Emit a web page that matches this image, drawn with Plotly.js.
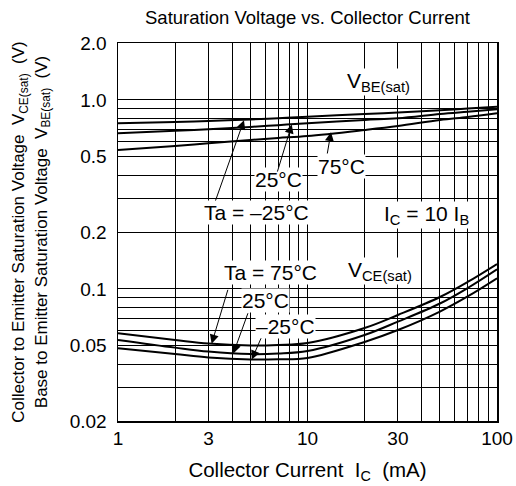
<!DOCTYPE html>
<html>
<head>
<meta charset="utf-8">
<script src="https://cdn.plot.ly/plotly-3.0.1.min.js"></script>
<style>html,body{margin:0;padding:0;background:#fff;}#chart{width:516px;height:486px;}</style>
</head>
<body>
<div id="chart"></div>
<script>
// Collector current (mA)
const currentMA = [1, 2, 3, 5, 7, 10, 20, 30, 50, 70, 100];
// V_BE(sat) (V)
const vbeM25 = [0.752, 0.764, 0.773, 0.788, 0.800, 0.815, 0.842, 0.858, 0.881, 0.900, 0.920];
const vbe25  = [0.666, 0.686, 0.699, 0.719, 0.735, 0.752, 0.783, 0.799, 0.842, 0.866, 0.892];
const vbe75  = [0.543, 0.570, 0.589, 0.614, 0.629, 0.644, 0.693, 0.727, 0.783, 0.812, 0.849];
// V_CE(sat) (V)
const vce75  = [0.0582, 0.0537, 0.0514, 0.0502, 0.0505, 0.0517, 0.0621, 0.0728, 0.0906, 0.1088, 0.1354];
const vce25  = [0.0537, 0.0489, 0.0466, 0.0452, 0.0455, 0.0469, 0.0570, 0.0671, 0.0837, 0.1011, 0.1270];
const vceM25 = [0.0485, 0.0452, 0.0434, 0.0423, 0.0424, 0.0431, 0.0524, 0.0606, 0.0759, 0.0912, 0.1138];

// Tick labels and grid positions
const xTickVals = [1, 3, 10, 30, 100];
const xTickText = ['1', '3', '10', '30', '100'];
const xGridVals = [2,3,4,5,6,7,8,9,10,20,30,40,50,60,70,80,90];
const yTickVals = [0.02, 0.05, 0.1, 0.2, 0.5, 1.0, 2.0];
const yTickText = ['0.02', '0.05', '0.1', '0.2', '0.5', '1.0', '2.0'];
const yGridVals = [0.03,0.04,0.05,0.06,0.07,0.08,0.09,0.1,0.2,0.3,0.4,0.5,0.6,0.7,0.8,0.9,1.0];

const FONT = 'Liberation Sans, Arial, Helvetica, sans-serif';

function tr(y, name) {
  return {x: currentMA, y: y, name: name, mode: 'lines', type: 'scatter',
          line: {color: '#000', width: 2, shape: 'spline', smoothing: 1}};
}
const data = [
  tr(vbeM25, 'VBE -25°C'), tr(vbe25, 'VBE 25°C'), tr(vbe75, 'VBE 75°C'),
  tr(vce75, 'VCE 75°C'), tr(vce25, 'VCE 25°C'), tr(vceM25, 'VCE -25°C')
];

const L = Math.log10;
function txt(text, x, y) {
  return {text: text, x: L(x), y: L(y), xref: 'x', yref: 'y', showarrow: false,
          xanchor: 'center', yanchor: 'middle', bgcolor: '#fff', borderpad: 0,
          font: {family: FONT, size: 21, color: '#000'}};
}
function arr(tipX, tipY, tailX, tailY) {
  return {text: '', x: L(tipX), y: L(tipY), ax: L(tailX), ay: L(tailY), xref: 'x', yref: 'y',
          axref: 'x', ayref: 'y', showarrow: true, arrowhead: 2, arrowsize: 1.8, arrowwidth: 1,
          arrowcolor: '#000', standoff: 0, startstandoff: 0};
}

const annotations = [
  txt('V<sub>BE(sat)</sub>', 23.6, 1.245),
  txt('V<sub>CE(sat)</sub>', 24.1, 0.1245),
  txt('I<sub>C</sub> = 10 I<sub>B</sub>', 42.4, 0.246),
  txt('Ta = –25°C', 5.35, 0.255),
  txt('25°C', 7.03, 0.377),
  txt('75°C', 15.1, 0.443),
  txt('Ta = 75°C', 6.34, 0.1214),
  txt('25°C', 5.97, 0.0873),
  txt('–25°C', 7.70, 0.0631),
  arr(4.62, 0.780, 3.25, 0.288),
  arr(8.26, 0.742, 6.90, 0.410),
  arr(13.3, 0.675, 12.68, 0.511),
  arr(3.12, 0.0513, 3.82, 0.1007),
  arr(4.06, 0.0455, 4.88, 0.0757),
  arr(5.08, 0.0423, 5.73, 0.0558)
];

const axisCommon = {
  type: 'log', tickmode: 'array', showgrid: true, gridcolor: '#000', gridwidth: 1, zeroline: false,
  showline: true, mirror: true, linecolor: '#000', linewidth: 1.5, ticks: '',
  tickfont: {family: FONT, size: 19, color: '#000'}
};

const layout = {
  width: 516, height: 486,
  margin: {l: 118, r: 19, t: 43, b: 65, pad: 0},
  paper_bgcolor: '#fff', plot_bgcolor: '#fff',
  showlegend: false,
  font: {family: FONT, color: '#000', size: 18},
  title: {text: 'Saturation Voltage vs. Collector Current', x: 0.5, xref: 'paper',
          y: 1 - 18 / 486, yref: 'container', xanchor: 'center', yanchor: 'middle',
          font: {family: FONT, size: 18.5, color: '#000'}},
  xaxis: Object.assign({}, axisCommon, {
    range: [0, 2], tickvals: xTickVals, ticktext: xTickText,
    minor: {tickmode: 'array', tickvals: xGridVals, showgrid: true, gridcolor: '#000', gridwidth: 1, ticks: ''},
    title: {text: 'Collector Current&nbsp; I<sub>C</sub>&nbsp; (mA)', standoff: 14,
            font: {family: FONT, size: 20.5, color: '#000'}}}),
  yaxis: Object.assign({}, axisCommon, {
    range: [L(0.02), L(2)], tickvals: yTickVals, ticktext: yTickText,
    minor: {tickmode: 'array', tickvals: yGridVals, showgrid: true, gridcolor: '#000', gridwidth: 1, ticks: ''},
    ticklabelstandoff: 6,
    title: {text: 'Collector to Emitter Saturation Voltage&nbsp; V<sub>CE(sat)</sub>&nbsp; (V)<br>Base to Emitter Saturation Voltage&nbsp; V<sub>BE(sat)</sub>&nbsp; (V)',
            standoff: 18, font: {family: FONT, size: 17, color: '#000'}}}),
  annotations: annotations
};

Plotly.newPlot('chart', data, layout, {staticPlot: true, displayModeBar: false});
</script>
</body>
</html>
